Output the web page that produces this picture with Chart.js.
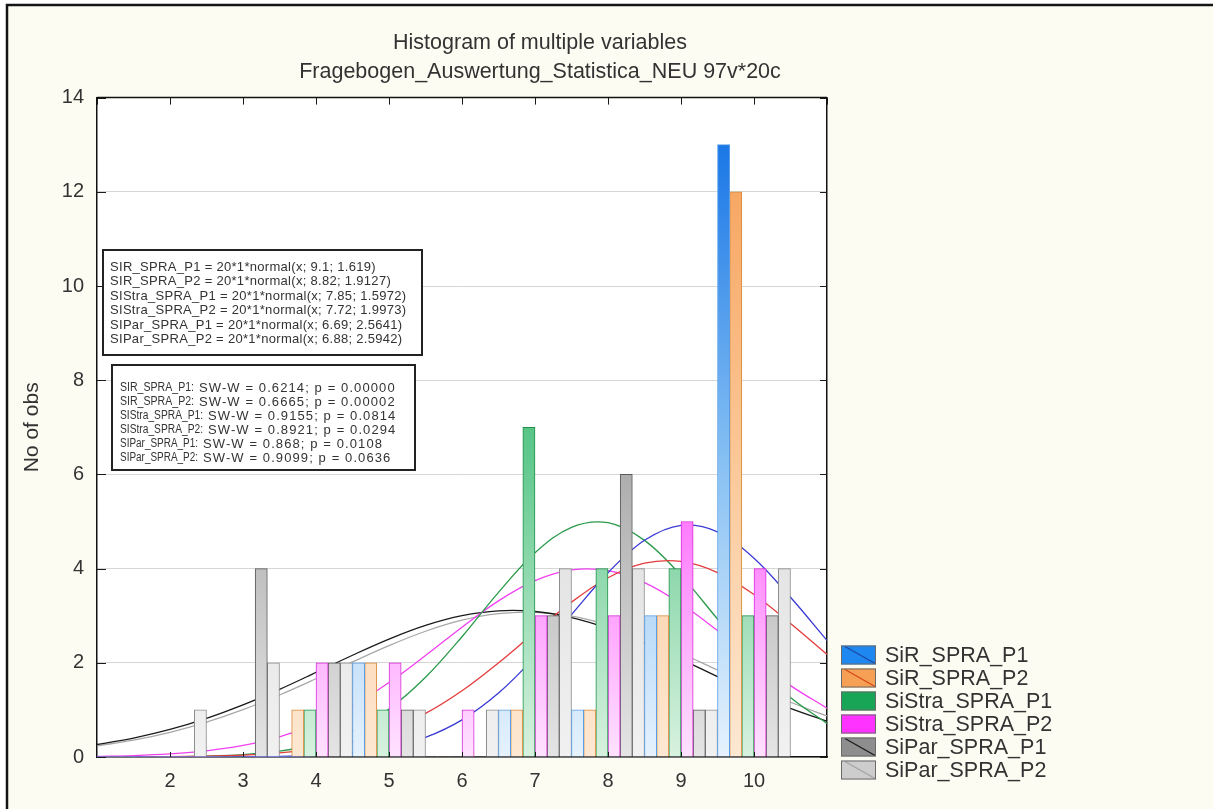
<!DOCTYPE html>
<html>
<head>
<meta charset="utf-8">
<script src="https://cdn.jsdelivr.net/npm/chart.js@4.4.1/dist/chart.umd.min.js"></script>
<style>
  html, body { margin: 0; padding: 0; background: #ffffff; }
  canvas { display: block; }
</style>
</head>
<body>
<canvas id="histo" width="1213" height="809"></canvas>
<script>
// Histogram bins (bin centres) and observed counts per variable
const binCenters     = [1, 2, 3, 4, 5, 6, 7, 8, 9, 10];
const countsSiRP1    = [0, 0, 0, 0, 2, 0, 1, 1, 3, 13];
const countsSiRP2    = [0, 0, 0, 1, 2, 0, 1, 1, 3, 12];
const countsSiStraP1 = [0, 0, 0, 1, 1, 0, 7, 4, 4, 3];
const countsSiStraP2 = [0, 0, 0, 2, 2, 1, 3, 3, 5, 4];
const countsSiParP1  = [0, 0, 4, 2, 1, 0, 3, 6, 1, 3];
const countsSiParP2  = [0, 1, 2, 2, 1, 1, 4, 4, 1, 4];

// Fitted normal curves (expected counts) sampled along the x axis
const curveX       = [1, 1.5, 2, 2.5, 3, 3.5, 4, 4.5, 5, 5.5, 6, 6.5, 7, 7.5, 8, 8.5, 9, 9.5, 10, 10.5, 11];
const fitSiRP1     = [0, 0.0001, 0.0003, 0.0012, 0.004, 0.012, 0.035, 0.087, 0.200, 0.416, 0.788, 1.357, 2.126, 3.024, 3.913, 4.601, 4.919, 4.780, 4.222, 3.391, 2.475];
const fitSiRP2     = [0.001, 0.003, 0.007, 0.018, 0.041, 0.087, 0.174, 0.326, 0.568, 0.925, 1.407, 1.999, 2.653, 3.288, 3.805, 4.114, 4.153, 3.916, 3.449, 2.836, 2.179];
const fitSiStraP1  = [0.0005, 0.002, 0.006, 0.018, 0.050, 0.123, 0.273, 0.554, 1.017, 1.692, 2.554, 3.495, 4.336, 4.877, 4.974, 4.599, 3.855, 2.930, 2.019, 1.261, 0.714];
const fitSiStraP2  = [0.014, 0.031, 0.066, 0.131, 0.245, 0.429, 0.705, 1.089, 1.580, 2.154, 2.757, 3.315, 3.743, 3.971, 3.956, 3.701, 3.253, 2.686, 2.082, 1.516, 1.037];
const fitSiParP1   = [0.265, 0.401, 0.584, 0.819, 1.105, 1.435, 1.795, 2.161, 2.504, 2.794, 3.001, 3.103, 3.089, 2.960, 2.731, 2.426, 2.074, 1.707, 1.353, 1.032, 0.758];
const fitSiParP2   = [0.236, 0.358, 0.524, 0.740, 1.005, 1.316, 1.661, 2.019, 2.365, 2.670, 2.904, 3.043, 3.072, 2.989, 2.802, 2.531, 2.203, 1.847, 1.492, 1.162, 0.871];

// Axis tick labels
const xTickLabels = ['', '2', '3', '4', '5', '6', '7', '8', '9', '10', ''];
const yTickValues = [0, 2, 4, 6, 8, 10, 12, 14];

// Series names and annotation texts
const seriesNames = ['SiR_SPRA_P1', 'SiR_SPRA_P2', 'SiStra_SPRA_P1', 'SiStra_SPRA_P2', 'SiPar_SPRA_P1', 'SiPar_SPRA_P2'];
const fitLines = [
  'SIR_SPRA_P1 = 20*1*normal(x; 9.1; 1.619)',
  'SIR_SPRA_P2 = 20*1*normal(x; 8.82; 1.9127)',
  'SIStra_SPRA_P1 = 20*1*normal(x; 7.85; 1.5972)',
  'SIStra_SPRA_P2 = 20*1*normal(x; 7.72; 1.9973)',
  'SIPar_SPRA_P1 = 20*1*normal(x; 6.69; 2.5641)',
  'SIPar_SPRA_P2 = 20*1*normal(x; 6.88; 2.5942)'
];
const swNames = ['SIR_SPRA_P1:', 'SIR_SPRA_P2:', 'SIStra_SPRA_P1:', 'SIStra_SPRA_P2:', 'SIPar_SPRA_P1:', 'SIPar_SPRA_P2:'];
const swValues = [
  'SW-W = 0.6214; p = 0.00000',
  'SW-W = 0.6665; p = 0.00002',
  'SW-W = 0.9155; p = 0.0814',
  'SW-W = 0.8921; p = 0.0294',
  'SW-W = 0.868; p = 0.0108',
  'SW-W = 0.9099; p = 0.0636'
];

const countSeries = [countsSiRP1, countsSiRP2, countsSiStraP1, countsSiStraP2, countsSiParP1, countsSiParP2];
const fitSeries   = [fitSiRP1, fitSiRP2, fitSiStraP1, fitSiStraP2, fitSiParP1, fitSiParP2];

// Colour scheme: bar gradient (bottom, middle, top), bar outline, curve, legend swatch
const palette = [
  { low: '#e6f2fd', mid: '#86c0f3', high: '#1574e6', edge: '#5a9ee6', curve: '#3a3ad4', swatch: '#1e88f0', swatchLine: '#1c48a6' },
  { low: '#fde8d3', mid: '#fbc898', high: '#f6a058', edge: '#d88a3a', curve: '#e43c3c', swatch: '#f5a055', swatchLine: '#d8481a' },
  { low: '#d8f2e0', mid: '#62c98e', high: '#14a050', edge: '#1f8f48', curve: '#2a9a4a', swatch: '#18a656', swatchLine: '#18a656' },
  { low: '#ffe2ff', mid: '#ff60ff', high: '#f020f0', edge: '#d62cd6', curve: '#f040f0', swatch: '#ff33ff', swatchLine: '#ff33ff' },
  { low: '#e4e4e4', mid: '#ababab', high: '#828282', edge: '#5a5a5a', curve: '#1a1a1a', swatch: '#8e8e8e', swatchLine: '#1a1a1a' },
  { low: '#f1f1f1', mid: '#dddddd', high: '#c8c8c8', edge: '#8e8e8e', curve: '#a8a8a8', swatch: '#cdcdcd', swatchLine: '#a4a4a4' }
];

const TEXT = '#333333';
const FONT = '"Liberation Sans", Arial, sans-serif';

const gradientCache = {};
function barFill(i) {
  return (ctx) => {
    const area = ctx.chart.chartArea;
    if (!area) return palette[i].mid;
    const key = i + ':' + area.top + ':' + area.bottom;
    if (!gradientCache[key]) {
      const g = ctx.chart.ctx.createLinearGradient(0, area.bottom, 0, area.top);
      g.addColorStop(0, palette[i].low);
      g.addColorStop(0.45, palette[i].mid);
      g.addColorStop(0.95, palette[i].high);
      gradientCache[key] = g;
    }
    return gradientCache[key];
  };
}

const barSets = countSeries.map((counts, i) => ({
  type: 'bar',
  label: seriesNames[i],
  data: binCenters.map((x, k) => ({ x: x, y: counts[k] })),
  backgroundColor: barFill(i),
  borderColor: palette[i].edge,
  borderWidth: (c) => (c.raw && c.raw.y ? 1 : 0),
  categoryPercentage: 1,
  barPercentage: 1,
  order: 1,
  xAxisID: 'x',
  yAxisID: 'y'
}));

const curveSets = fitSeries.map((vals, i) => ({
  type: 'line',
  label: seriesNames[i] + ' fit',
  data: curveX.map((x, k) => ({ x: x, y: vals[k] })),
  borderColor: palette[i].curve,
  borderWidth: 1.3,
  pointRadius: 0,
  tension: 0.35,
  fill: false,
  order: 2,
  xAxisID: 'x',
  yAxisID: 'y'
}));

// Page background, outer frame and white plotting area
const framePlugin = {
  id: 'frame',
  beforeDraw(chart) {
    const { ctx, width, height, chartArea: a } = chart;
    ctx.save();
    ctx.fillStyle = '#ffffff';
    ctx.fillRect(0, 0, width, height);
    ctx.fillStyle = '#fdfcf3';
    ctx.fillRect(7, 5, width - 7, height - 5);
    ctx.strokeStyle = '#141414';
    ctx.lineWidth = 2.5;
    ctx.beginPath();
    ctx.moveTo(7, height);
    ctx.lineTo(7, 5);
    ctx.lineTo(width, 5);
    ctx.stroke();
    ctx.fillStyle = '#ffffff';
    ctx.fillRect(a.left, a.top, a.right - a.left, a.bottom - a.top);
    ctx.restore();
  }
};

// Inward tick marks and the top border of the plot
const tickPlugin = {
  id: 'innerTicks',
  afterDatasetsDraw(chart) {
    const { ctx, chartArea: a, scales } = chart;
    const sx = scales.x, sy = scales.y;
    ctx.save();
    ctx.strokeStyle = '#1a1a1a';
    ctx.lineWidth = 1;
    ctx.beginPath();
    for (let v = 1; v <= 11; v++) {
      const px = Math.round(sx.getPixelForValue(v)) + 0.5;
      ctx.moveTo(px, a.top);
      ctx.lineTo(px, a.top + 7);
      if (v >= 2 && v <= 10) {
        ctx.moveTo(px, a.bottom);
        ctx.lineTo(px, a.bottom - 5);
      }
    }
    yTickValues.forEach((v) => {
      const py = Math.round(sy.getPixelForValue(v)) + 0.5;
      ctx.moveTo(a.left, py);
      ctx.lineTo(a.left + 9, py);
      ctx.moveTo(a.right, py);
      ctx.lineTo(a.right - 7, py);
    });
    ctx.stroke();
    ctx.lineWidth = 1.5;
    ctx.strokeStyle = '#111111';
    ctx.beginPath();
    ctx.moveTo(a.left, a.top);
    ctx.lineTo(a.right, a.top);
    ctx.stroke();
    ctx.restore();
  }
};

// Statistics boxes and the legend
const notesPlugin = {
  id: 'notes',
  afterDraw(chart) {
    const { ctx, chartArea: a } = chart;
    ctx.save();
    ctx.textBaseline = 'middle';
    ctx.textAlign = 'left';

    // fit equations
    ctx.fillStyle = '#ffffff';
    ctx.fillRect(103, 250, 319, 105);
    ctx.strokeStyle = '#222222';
    ctx.lineWidth = 2;
    ctx.strokeRect(103, 250, 319, 105);
    ctx.fillStyle = TEXT;
    ctx.font = '13px ' + FONT;
    ctx.letterSpacing = '0.3px';
    fitLines.forEach((t, i) => ctx.fillText(t, 110, 267 + i * 14.5));

    // Shapiro-Wilk results
    ctx.fillStyle = '#ffffff';
    ctx.fillRect(112, 365, 303, 105);
    ctx.strokeRect(112, 365, 303, 105);
    ctx.fillStyle = TEXT;
    const swX = [199, 199, 208, 208, 203, 203];
    swNames.forEach((t, i) => {
      const y = 388 + i * 14;
      ctx.font = '12.5px ' + FONT;
      ctx.letterSpacing = '0px';
      ctx.fillText(t, 120, y, swX[i] - 125);
      ctx.font = '13px ' + FONT;
      ctx.letterSpacing = '1.1px';
      ctx.fillText(swValues[i], swX[i], y);
    });
    ctx.letterSpacing = '0px';

    // legend
    const lx = a.right + 14;
    ctx.font = '21.5px ' + FONT;
    seriesNames.forEach((name, i) => {
      const cy = 655 + i * 23;
      const top = cy - 9.5;
      ctx.fillStyle = palette[i].swatch;
      ctx.fillRect(lx, top, 35, 19);
      ctx.strokeStyle = palette[i].swatchLine;
      ctx.lineWidth = 1.3;
      ctx.beginPath();
      ctx.moveTo(lx + 4, top + 1);
      ctx.lineTo(lx + 34, top + 18);
      ctx.stroke();
      ctx.strokeStyle = '#6a6a6a';
      ctx.lineWidth = 1;
      ctx.strokeRect(lx + 0.5, top + 0.5, 34, 18);
      ctx.fillStyle = TEXT;
      ctx.fillText(name, lx + 44, cy + 1);
    });
    ctx.restore();
  }
};

new Chart(document.getElementById('histo'), {
  type: 'bar',
  data: { datasets: [...barSets, ...curveSets] },
  options: {
    responsive: false,
    devicePixelRatio: 1,
    animation: false,
    layout: { padding: { left: 0, right: 133, top: 0, bottom: 0 } },
    plugins: {
      legend: { display: false },
      tooltip: { enabled: false },
      title: {
        display: true,
        text: 'Histogram of multiple variables',
        color: TEXT,
        font: { family: FONT, size: 21.5, weight: 'normal', lineHeight: 1.2 },
        padding: { top: 30, bottom: 0 }
      },
      subtitle: {
        display: true,
        text: 'Fragebogen_Auswertung_Statistica_NEU 97v*20c',
        color: TEXT,
        font: { family: FONT, size: 21.5, weight: 'normal', lineHeight: 1.2 },
        padding: { top: 3, bottom: 13 }
      }
    },
    scales: {
      x: {
        type: 'linear',
        min: 1,
        max: 11,
        offset: false,
        grid: { display: false, drawTicks: false, offset: false },
        border: { display: true, color: '#111111', width: 1.5 },
        ticks: {
          stepSize: 1,
          autoSkip: false,
          maxRotation: 0,
          padding: 12,
          color: TEXT,
          font: { family: FONT, size: 20 },
          callback: (v) => xTickLabels[v - 1] || ''
        },
        afterFit: (s) => { s.height = 52; }
      },
      y: {
        type: 'linear',
        position: 'left',
        min: 0,
        max: 14,
        grid: { color: '#d6d6d6', lineWidth: 1, drawTicks: false },
        border: { display: true, color: '#111111', width: 1.5 },
        ticks: {
          stepSize: 2,
          padding: 13,
          color: TEXT,
          font: { family: FONT, size: 20 }
        },
        title: {
          display: true,
          text: 'No of obs',
          color: TEXT,
          font: { family: FONT, size: 21, lineHeight: 1.2 },
          padding: { top: 20, bottom: 0 }
        },
        afterFit: (s) => { s.width = 97; }
      },
      yr: {
        type: 'linear',
        position: 'right',
        min: 0,
        max: 14,
        grid: { display: false, drawTicks: false },
        border: { display: true, color: '#111111', width: 1.5 },
        ticks: { display: false },
        afterFit: (s) => { s.width = 253; }
      }
    }
  },
  plugins: [framePlugin, tickPlugin, notesPlugin]
});
</script>
</body>
</html>
